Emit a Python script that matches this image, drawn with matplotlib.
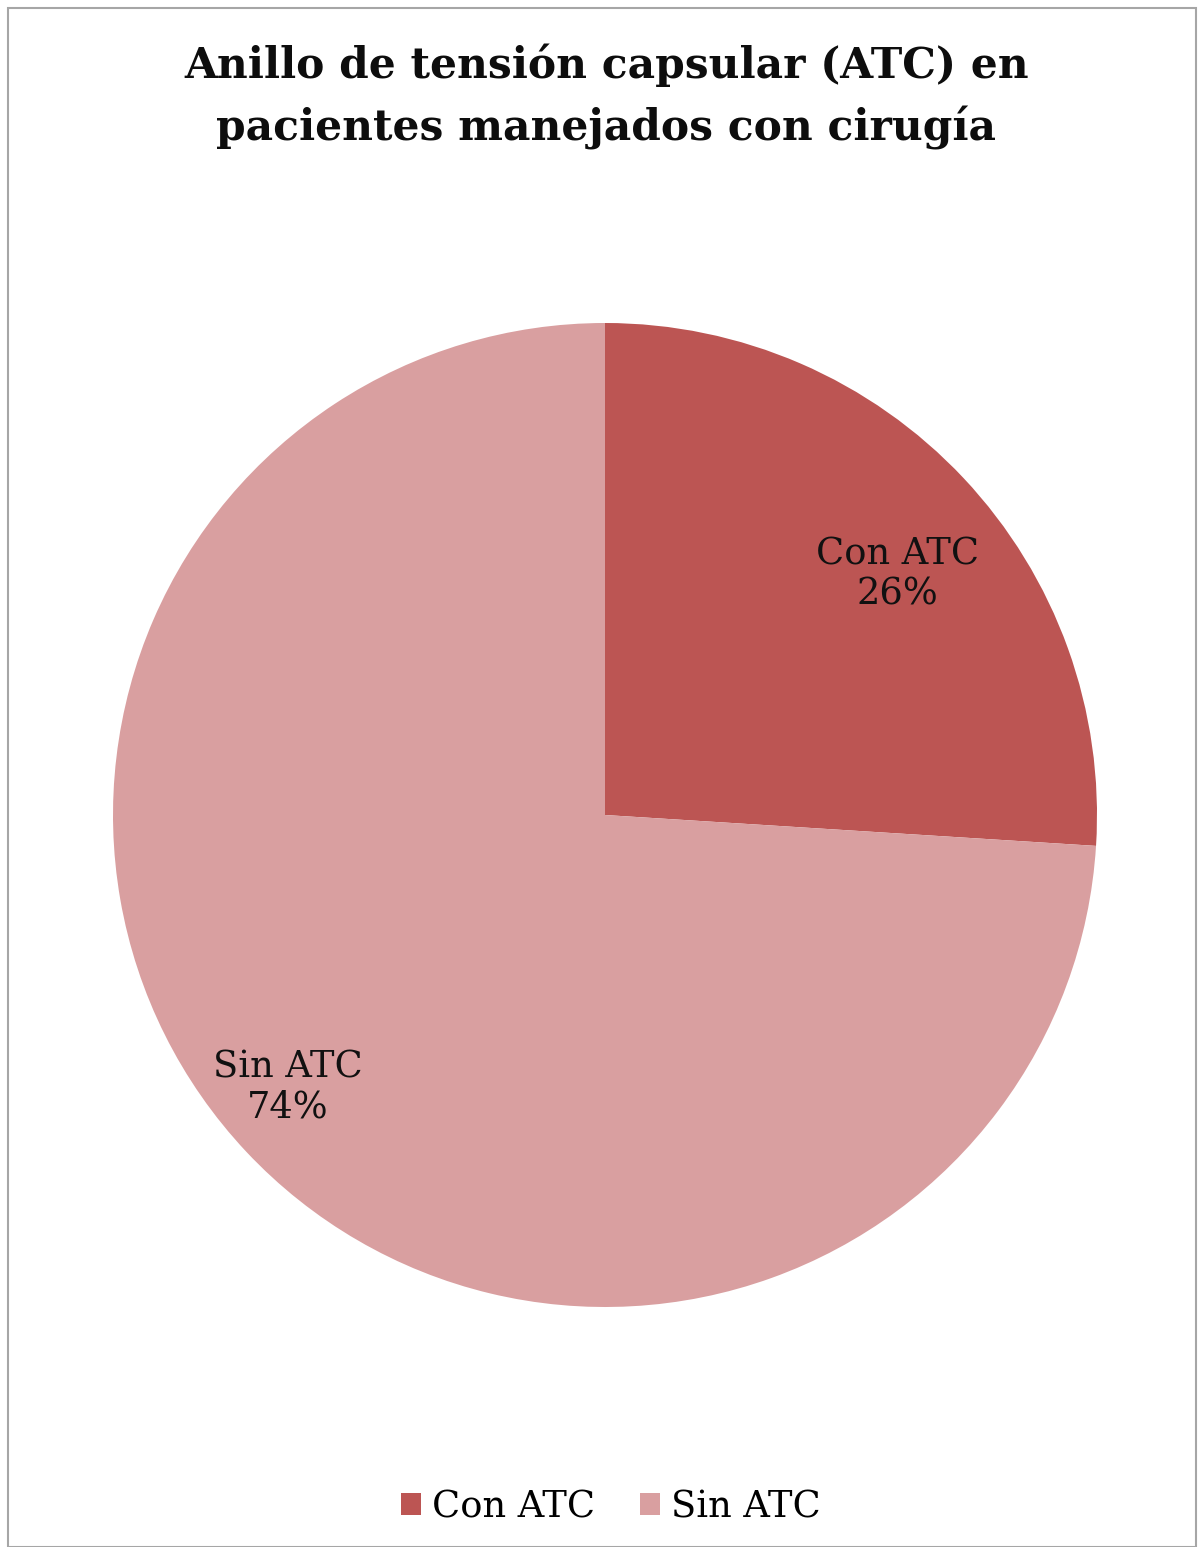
import numpy as np
import matplotlib.pyplot as plt
from matplotlib.patches import Rectangle

# datos
categorias = ['Con ATC', 'Sin ATC']
valores = [26, 74]
colores = ['#BC5553', '#D99FA0']
titulo = 'Anillo de tensión capsular (ATC) en\npacientes manejados con cirugía'

plt.rcParams['font.family'] = ['DejaVu Serif']

W, H = 1198, 1547
fig = plt.figure(figsize=(W / 100, H / 100), dpi=100)
fig.patch.set_facecolor('white')

# marco gris
fig.add_artist(Rectangle((8 / W, 0), (W - 10) / W, (H - 8) / H, transform=fig.transFigure,
                         fill=False, edgecolor='#A6A6A6', linewidth=1.5))

# pastel
cx, cy, R = 605, 815, 492
ax = fig.add_axes([(cx - R) / W, (H - cy - R) / H, 2 * R / W, 2 * R / H])
wedges, _ = ax.pie(valores, colors=colores, startangle=90, counterclock=False,
                   wedgeprops=dict(linewidth=0))
ax.set_xlim(-1, 1)
ax.set_ylim(-1, 1)
ax.set_aspect('equal')
ax.axis('off')

# etiquetas dentro de cada porción
dist = [0.77, 0.85]
desv = [-3.8, -2.6]
for w, cat, v, d, o in zip(wedges, categorias, valores, dist, desv):
    ang = np.deg2rad((w.theta1 + w.theta2) / 2 + o)
    ax.text(d * np.cos(ang), d * np.sin(ang), f'{cat}\n{v}%', ha='center', va='center',
            fontsize=26.5, color='#111111', linespacing=1.15)

fig.text(0.506, 1 - 97 / H, titulo, ha='center', va='center', fontsize=30.5,
         fontweight='bold', linespacing=1.55, color='#0d0d0d')

leg = fig.legend(wedges, categorias, loc='center', bbox_to_anchor=(0.51, 1 - 1507 / H),
                 ncol=2, frameon=False, fontsize=26.5, handlelength=0.55, handleheight=0.55,
                 handletextpad=0.3, columnspacing=1.2)

fig.savefig('out.png', dpi=100)
